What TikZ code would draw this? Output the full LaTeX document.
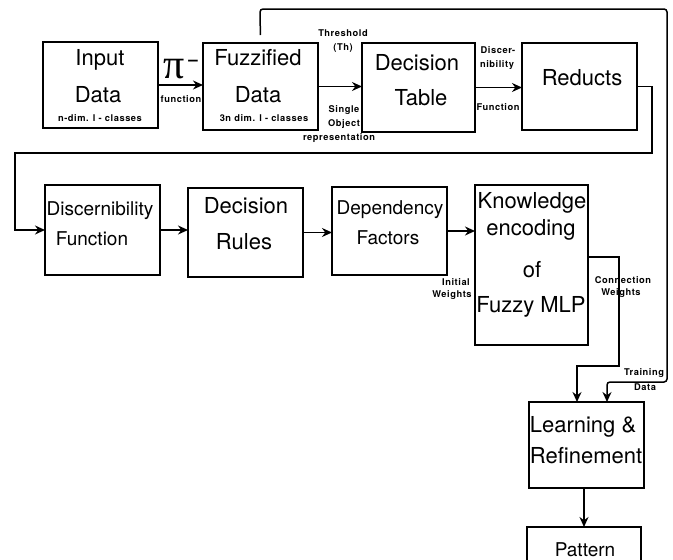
\documentclass[tikz,border=0pt]{standalone}
\usepackage{fontspec}
\setmainfont{TeX Gyre Heros}
\newfontfamily\pifont{Liberation Serif}
\usetikzlibrary{arrows.meta,calc}
\begin{document}
\begin{tikzpicture}[x=1pt,y=-1pt,
  box/.style={draw, line width=1.5pt, inner sep=0pt, outer sep=0pt},
  big/.style={font=\fontsize{22}{22}\selectfont, anchor=base, inner sep=0pt},
  mid/.style={font=\fontsize{19}{19}\selectfont, anchor=base, inner sep=0pt},
  tiny/.style={font=\fontsize{9.3}{9.3}\selectfont\bfseries\addfontfeature{LetterSpace=6}, inner sep=0pt},
  conn/.style={line width=1.5pt, -{Stealth[length=10pt,width=9pt]}}]
\clip (0,0) rectangle (673,560);
% boxes
\node[box, minimum width=115pt, minimum height=86pt] (in) at (100.5,85) {};
\node[box, minimum width=115pt, minimum height=87pt] (fz) at (260.5,86.5) {};
\node[box, minimum width=113pt, minimum height=89pt] (dt) at (418.5,87.5) {};
\node[box, minimum width=115pt, minimum height=87pt] (rd) at (579.5,86.5) {};
\node[box, minimum width=115pt, minimum height=90pt] (df) at (102.5,230) {};
\node[box, minimum width=115pt, minimum height=89pt] (dr) at (245.5,232.5) {};
\node[box, minimum width=115pt, minimum height=88pt] (dp) at (389.5,231) {};
\node[box, minimum width=113pt, minimum height=160pt] (kn) at (531.5,265) {};
\node[box, minimum width=115pt, minimum height=86pt] (lr) at (586.5,445) {};
\node[box, minimum width=114pt, minimum height=73pt] (pt) at (584,563.5) {};
% box texts
\node[big] (t1a) at (100,65) {Input};
\node[big] (t1b) at (98,102) {Data};
\node[tiny] (t1c) at (100,118) {n-dim. l - classes};
\node[big] (t2a) at (258,65) {Fuzzified};
\node[big] (t2b) at (258,102) {Data};
\node[tiny] (t2c) at (264,118) {3n dim. l - classes};
\node[big] (t3a) at (417,70) {Decision};
\node[big] (t3b) at (421,105) {Table};
\node[big] (t4) at (582,85) {Reducts};
\node[mid] (t5a) at (100,215) {Discernibility};
\node[mid] (t5b) at (92,245) {Function};
\node[big] (t6a) at (246,213) {Decision};
\node[big] (t6b) at (244,249) {Rules};
\node[mid] (t7a) at (390,214) {Dependency};
\node[mid] (t7b) at (388,244) {Factors};
\node[big] (t8a) at (532,208) {Knowledge};
\node[big] (t8b) at (531,235) {encoding};
\node[big] (t8c) at (532,277) {of};
\node[big] (t8d) at (531,312) {Fuzzy MLP};
\node[big] (t9a) at (583,432) {Learning \&};
\node[big] (t9b) at (586,463) {Refinement};
\node[mid] (t10) at (585,556) {Pattern};
% connector labels
\node[inner sep=0pt, anchor=base, font=\pifont\fontsize{42}{42}\selectfont] (pi) at (174,78) {π};
\node[inner sep=0pt, font=\fontsize{17}{17}\selectfont\bfseries] (dash) at (193,63) {–};
\node[tiny] (l1) at (181,99) {function};
\node[tiny] (l2a) at (343,33) {Threshold};
\node[tiny] (l2b) at (343,48) {(Th)};
\node[tiny] (l3a) at (344,110) {Single};
\node[tiny] (l3b) at (344,124) {Object};
\node[tiny] (l3c) at (339,138) {representation};
\node[tiny] (l4a) at (498,50) {Discer-};
\node[tiny] (l4b) at (497,65) {nibility};
\node[tiny] (l4c) at (498,107) {Function};
\node[tiny] (l5a) at (456,282) {Initial};
\node[tiny] (l5b) at (452,295) {Weights};
\node[tiny] (l6a) at (623,280) {Connection};
\node[tiny] (l6b) at (621,293) {Weights};
\node[tiny] (l7a) at (644,373) {Training};
\node[tiny] (l7b) at (645,387) {Data};
% connectors
\coordinate (c1) at (577,366);
\coordinate (c2) at (607,382);
\draw[conn] (in.east) -- (in.east -| fz.west);
\draw[conn] (fz.east) -- (fz.east -| dt.west);
\draw[conn] (dt.east) -- (dt.east -| rd.west);
\draw[conn] (rd.east) -- (652,86.5) -- (652,153) -- (15,153) |- (df.west);
\draw[conn] (df.east) -- (df.east -| dr.west);
\draw[conn] (dr.east) -- (dr.east -| dp.west);
\draw[conn] (dp.east) -- (dp.east -| kn.west);
\draw[conn] ($(kn.east)+(0,-8)$) -- (619,257) -- (619,366) -- (c1) -- (c1 |- lr.north);
\draw[conn, rounded corners=3pt, shorten <=8pt] (fz.north) -- (260,9) -- (667,9) -- (667,382) -- (c2) -- (c2 |- lr.north);
\draw[conn] (pt.north |- lr.south) -- (pt.north);
\end{tikzpicture}
\end{document}
